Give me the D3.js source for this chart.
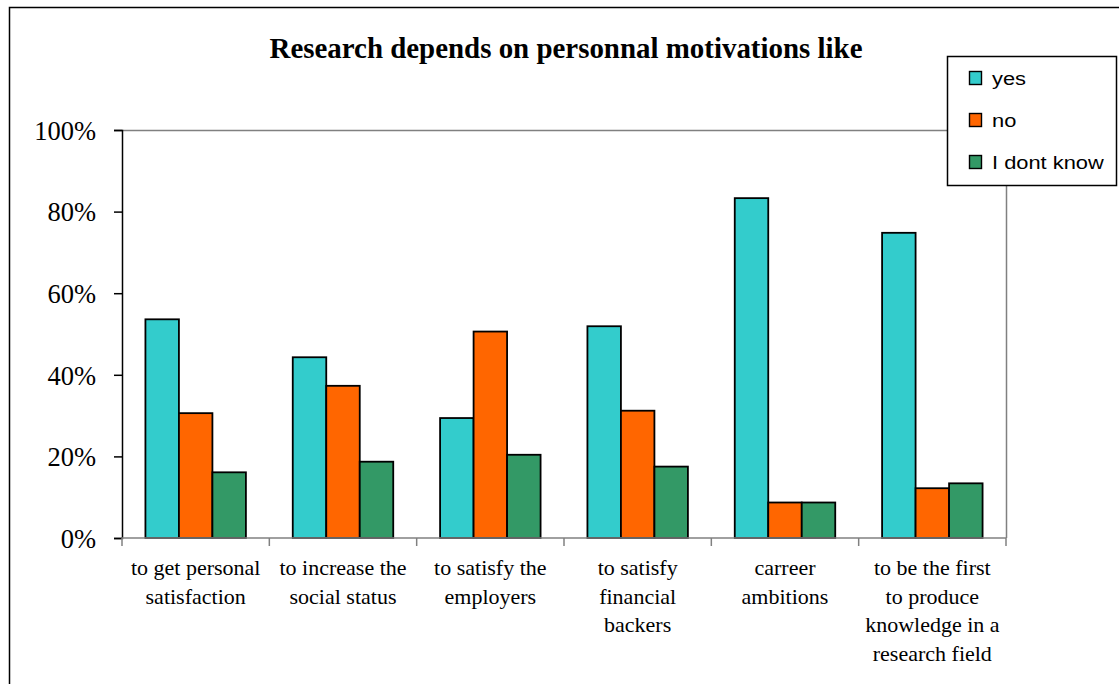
<!DOCTYPE html>
<html lang="en">
<head>
    <meta charset="UTF-8">
    <title>Research depends on personnal motivations like</title>
    <script src="https://d3js.org/d3.v7.min.js"></script>
    <style>
        body { margin: 0; background: #fff; }
        .tick-label { font-family: 'Liberation Serif', 'Times New Roman', serif; fill: #000; }
        .legend-label { font-family: 'Liberation Sans', Arial, sans-serif; fill: #000; }
    </style>
</head>
<body>
<script>
    // chart data
    const categories = [
        ["to get personal", "satisfaction"],
        ["to increase the", "social status"],
        ["to satisfy the", "employers"],
        ["to satisfy", "financial", "backers"],
        ["carreer", "ambitions"],
        ["to be the first", "to produce", "knowledge in a", "research field"]
    ];
    const seriesNames = ["yes", "no", "I dont know"];
    const yesValues = [0.536, 0.443, 0.294, 0.519, 0.833, 0.748];
    const noValues = [0.306, 0.373, 0.506, 0.312, 0.087, 0.122];
    const dontKnowValues = [0.161, 0.187, 0.204, 0.175, 0.087, 0.134];
    const yTicks = [0, 0.2, 0.4, 0.6, 0.8, 1.0];
    const colors = ["#33CCCC", "#FF6600", "#339966"];

    const W = 1119, H = 684;
    const margin = {top: 130, right: 113, bottom: 146, left: 122};
    const width = W - margin.left - margin.right,
          height = H - margin.top - margin.bottom;

    const svg = d3.select("body").append("svg")
        .attr("width", W)
        .attr("height", H);

    // outer chart frame
    svg.append("rect")
        .attr("x", 9.5).attr("y", 7.5)
        .attr("width", W + 20).attr("height", H + 20)
        .attr("fill", "#fff")
        .attr("stroke", "#000")
        .attr("stroke-width", 1.5);

    // title
    svg.append("text")
        .attr("x", 566)
        .attr("y", 58)
        .attr("text-anchor", "middle")
        .style("font-family", "'Liberation Serif', 'Times New Roman', serif")
        .style("font-weight", "bold")
        .style("font-size", "28.5px")
        .attr("textLength", 593)
        .attr("lengthAdjust", "spacingAndGlyphs")
        .text("Research depends on personnal motivations like");

    const g = svg.append("g")
        .attr("transform", `translate(${margin.left},${margin.top})`);

    const x0 = d3.scaleBand()
        .domain(d3.range(categories.length))
        .range([0, width])
        .paddingInner(0.318)
        .paddingOuter(0.159);

    const x1 = d3.scaleBand()
        .domain(d3.range(seriesNames.length))
        .range([0, x0.bandwidth()]);

    const y = d3.scaleLinear()
        .domain([0, 1])
        .range([height, 0]);

    // plot area border (top / right)
    g.append("path")
        .attr("d", `M0,0.5H${width + 0.5}V${height}`)
        .attr("fill", "none")
        .attr("stroke", "#808080")
        .attr("stroke-width", 1.5);

    // bars
    const allValues = [yesValues, noValues, dontKnowValues];
    allValues.forEach((vals, si) => {
        g.selectAll(".bar-" + si)
            .data(vals)
            .enter().append("rect")
            .attr("class", "bar-" + si)
            .attr("x", (d, i) => x0(i) + x1(si))
            .attr("y", d => y(d))
            .attr("width", x1.bandwidth())
            .attr("height", d => height - y(d))
            .attr("fill", colors[si])
            .attr("stroke", "#000")
            .attr("stroke-width", 1.8);
    });

    // y axis
    const yAxis = g.append("g")
        .call(d3.axisLeft(y).tickValues(yTicks).tickFormat(d3.format(".0%")).tickSize(8).tickPadding(18));
    yAxis.select(".domain").attr("stroke", "#000").attr("stroke-width", 1.5);
    yAxis.selectAll(".tick line").attr("stroke", "#000").attr("stroke-width", 1.5);
    yAxis.selectAll(".tick text")
        .attr("class", "tick-label")
        .attr("dy", "0.35em")
        .style("font-size", "26.5px");

    // x axis: ticks at category boundaries
    const step = x0.step();
    const xAxis = g.append("g")
        .attr("transform", `translate(0,${height})`);
    xAxis.append("line")
        .attr("x1", 0).attr("x2", width)
        .attr("stroke", "#808080").attr("stroke-width", 1.5);
    xAxis.selectAll(".xtick")
        .data(d3.range(categories.length + 1))
        .enter().append("line")
        .attr("class", "xtick")
        .attr("x1", i => i * step).attr("x2", i => i * step)
        .attr("y1", 0).attr("y2", 8)
        .attr("stroke", "#808080").attr("stroke-width", 1.5);

    xAxis.selectAll(".xlabel")
        .data(categories)
        .enter().append("text")
        .attr("class", "tick-label")
        .attr("text-anchor", "middle")
        .attr("x", (d, i) => x0(i) + x0.bandwidth() / 2)
        .attr("y", 37)
        .style("font-size", "22px")
        .each(function (lines) {
            const t = d3.select(this);
            lines.forEach((line, li) => {
                t.append("tspan")
                    .attr("x", t.attr("x"))
                    .attr("dy", li === 0 ? 0 : 28.5)
                    .text(line);
            });
        });

    // legend
    const legend = svg.append("g");
    legend.append("rect")
        .attr("x", 947.5).attr("y", 56.5)
        .attr("width", 169).attr("height", 129)
        .attr("fill", "#fff")
        .attr("stroke", "#000")
        .attr("stroke-width", 1.5);
    const legendY = [78, 120, 162];
    seriesNames.forEach((name, i) => {
        legend.append("rect")
            .attr("x", 969.5).attr("y", legendY[i] - 6.5)
            .attr("width", 12).attr("height", 13)
            .attr("fill", colors[i])
            .attr("stroke", "#000")
            .attr("stroke-width", 1.4);
        legend.append("text")
            .attr("class", "legend-label")
            .attr("transform", `translate(992,${legendY[i]}) scale(1.15,1)`)
            .attr("dy", "0.36em")
            .style("font-size", "19px")
            .text(name);
    });
</script>
</body>
</html>
